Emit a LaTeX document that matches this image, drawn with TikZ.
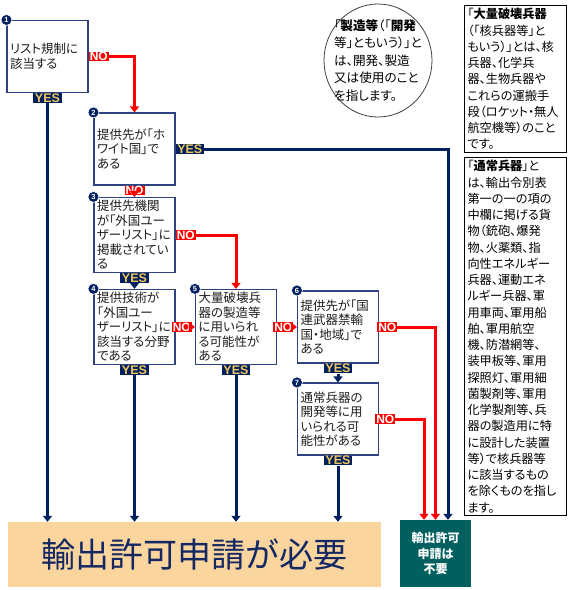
\documentclass[tikz,border=0pt]{standalone}
\usepackage{fontspec}
\setmainfont{Liberation Sans}
\newfontfamily\jpfont[RawFeature=+palt]{Noto Sans CJK JP}
\usetikzlibrary{arrows.meta,shapes.geometric,positioning}

\definecolor{navyline}{RGB}{0,32,96}
\definecolor{boxedge}{RGB}{46,66,130}
\definecolor{yesgold}{RGB}{240,200,90}
\definecolor{nored}{RGB}{255,0,0}
\definecolor{needfill}{RGB}{251,213,158}
\definecolor{needtext}{RGB}{20,40,100}
\definecolor{freefill}{RGB}{0,96,96}
\definecolor{inkgray}{RGB}{30,30,30}

\begin{document}
\begin{tikzpicture}[x=1pt, y=-1pt,
		font=\jpfont\fontsize{12.5}{14.5}\selectfont, text=inkgray,
		qbox/.style={rectangle, draw=boxedge, line width=1.1pt, fill=white, align=left,
			text width=75pt, minimum width=81pt, minimum height=72pt, inner sep=3pt},
		numdot/.style={circle, fill=navyline, draw=white, line width=0.6pt, text=white,
			inner sep=0pt, minimum size=11pt, font=\normalfont\bfseries\fontsize{7.5}{7.5}\selectfont},
		yeslab/.style={rectangle, fill=navyline, text=yesgold, inner xsep=1.5pt, inner ysep=0.4pt,
			font=\normalfont\bfseries\fontsize{12.5}{12.5}\selectfont},
		nolab/.style={rectangle, fill=nored, text=white, inner xsep=1pt, inner ysep=0.4pt,
			font=\normalfont\bfseries\fontsize{12}{12}\selectfont},
		yesline/.style={draw=navyline, line width=3pt, -{Triangle[width=9pt,length=6pt]}},
		noline/.style={draw=nored, line width=3pt, -{Triangle[width=9pt,length=6pt]}},
		defbox/.style={rectangle, draw=black, line width=1pt, fill=white, align=left, anchor=north west,
			text width=96pt, inner xsep=3pt, inner ysep=3pt, text=black,
			font=\jpfont\fontsize{12.2}{16.25}\selectfont},
		needbox/.style={rectangle, fill=needfill, text=needtext, minimum width=373pt, minimum height=65pt,
			font=\jpfont\fontsize{34}{34}\selectfont},
		freebox/.style={rectangle, fill=freefill, text=white, align=center, minimum width=71pt,
			minimum height=67pt, font=\jpfont\bfseries\fontsize{12}{15.5}\selectfont}
	]
	\useasboundingbox (0,0) rectangle (570,590);
	% questions
	\node[qbox] (b1) at (47.5,56.5) {リスト規制に\\該当する};
	\node[qbox] (b2) at (134.5,149) {提供先が「ホ\\ワイト国」で\\ある};
	\node[qbox] (b3) at (134.5,235) {提供先機関\\が「外国ユー\\ザーリスト」に\\掲載されてい\\る};
	\node[qbox] (b4) at (134.5,327) {提供技術が\\「外国ユー\\ザーリスト」に\\該当する分野\\である};
	\node[qbox] (b5) at (236,327) {大量破壊兵\\器の製造等\\に用いられ\\る可能性が\\ある};
	\node[qbox] (b6) at (338,327) {提供先が「国\\連武器禁輸\\国・地域」で\\ある};
	\node[qbox] (b7) at (338,419) {通常兵器の\\開発等に用\\いられる可\\能性がある};
	\foreach \i in {1,...,7}
		\node[numdot] (k\i) at (b\i.north west) {\i};
	% results
	\node[needbox] (need) at (194.5,554.5) {輸出許可申請が必要};
	\node[freebox] (free) at (435.5,553.5) {輸出許可\\申請は\\不要};
	% notes
	\node[ellipse, draw=black!75, line width=0.8pt, minimum width=108pt, minimum height=113pt,
		inner sep=0pt] (note) at (378,60.5) {};
	\node[align=left, text=black, font=\jpfont\fontsize{12.6}{17.5}\selectfont] (notetext) at (note.center)
		{「\textbf{製造等}（「\textbf{開発}\\等」ともいう）」と\\は、開発、製造\\又は使用のこと\\を指します。};
	\node[defbox] (wmd) at (464,5) {「\textbf{大量破壊兵器}\\（「核兵器等」と\\もいう）」とは、核\\兵器、化学兵\\器、生物兵器や\\これらの運搬手\\段（ロケット・無人\\航空機等）のこと\\です。};
	\node[defbox] (conv) at (464,157) {「\textbf{通常兵器}」と\\は、輸出令別表\\第一の一の項の\\中欄に掲げる貨\\物（銃砲、爆発\\物、火薬類、指\\向性エネルギー\\兵器、運動エネ\\ルギー兵器、軍\\用車両、軍用船\\舶、軍用航空\\機、防潜網等、\\装甲板等、軍用\\探照灯、軍用細\\菌製剤等、軍用\\化学製剤等、兵\\器の製造用に特\\に設計した装置\\等）で核兵器等\\に該当するもの\\を除くものを指し\\ます。};
	% YES / NO labels
	\node[yeslab, below=0pt of b1] (y1) {YES};
	\node[nolab, right=0pt of b1] (n1) {NO};
	\node[yeslab, right=0pt of b2] (y2) {YES};
	\node[nolab, below=0pt of b2] (n2) {NO};
	\node[yeslab, below=0pt of b3] (y3) {YES};
	\node[nolab, right=0pt of b3] (n3) {NO};
	\node[yeslab, below=0pt of b4] (y4) {YES};
	\node[nolab, right=-4pt of b4] (n4) {NO};
	\node[yeslab, below=0pt of b5] (y5) {YES};
	\node[nolab, right=-4pt of b5] (n5) {NO};
	\node[yeslab, below=0pt of b6] (y6) {YES};
	\node[nolab, right=-2pt of b6] (n6) {NO};
	\node[yeslab, below=0pt of b7] (y7) {YES};
	\node[nolab, right=-4pt of b7] (n7) {NO};
	% connectors
	\draw[yesline] (y1.south) -- (y1.south |- need.north);
	\draw[noline] (n1.east) -| (b2.north);
	\draw[yesline] (y2.east) -| ([xshift=12.5pt]free.north);
	\draw[noline] (n2) -- (b3);
	\draw[noline] (n3.east) -| (b5.north);
	\draw[yesline] (y3) -- (b4);
	\draw[noline] (n4.east) -- (b5.west);
	\draw[yesline] (y4.south) -- (y4.south |- need.north);
	\draw[noline] (n5.east) -- (b6.west);
	\draw[yesline] (y5.south) -- (y5.south |- need.north);
	\draw[noline] (n6.east) -| (free.north);
	\draw[yesline] (y6) -- (b7);
	\draw[noline] (n7.east) -| ([xshift=-11.5pt]free.north);
	\draw[yesline] (y7.south) -- (y7.south |- need.north);
\end{tikzpicture}
\end{document}
